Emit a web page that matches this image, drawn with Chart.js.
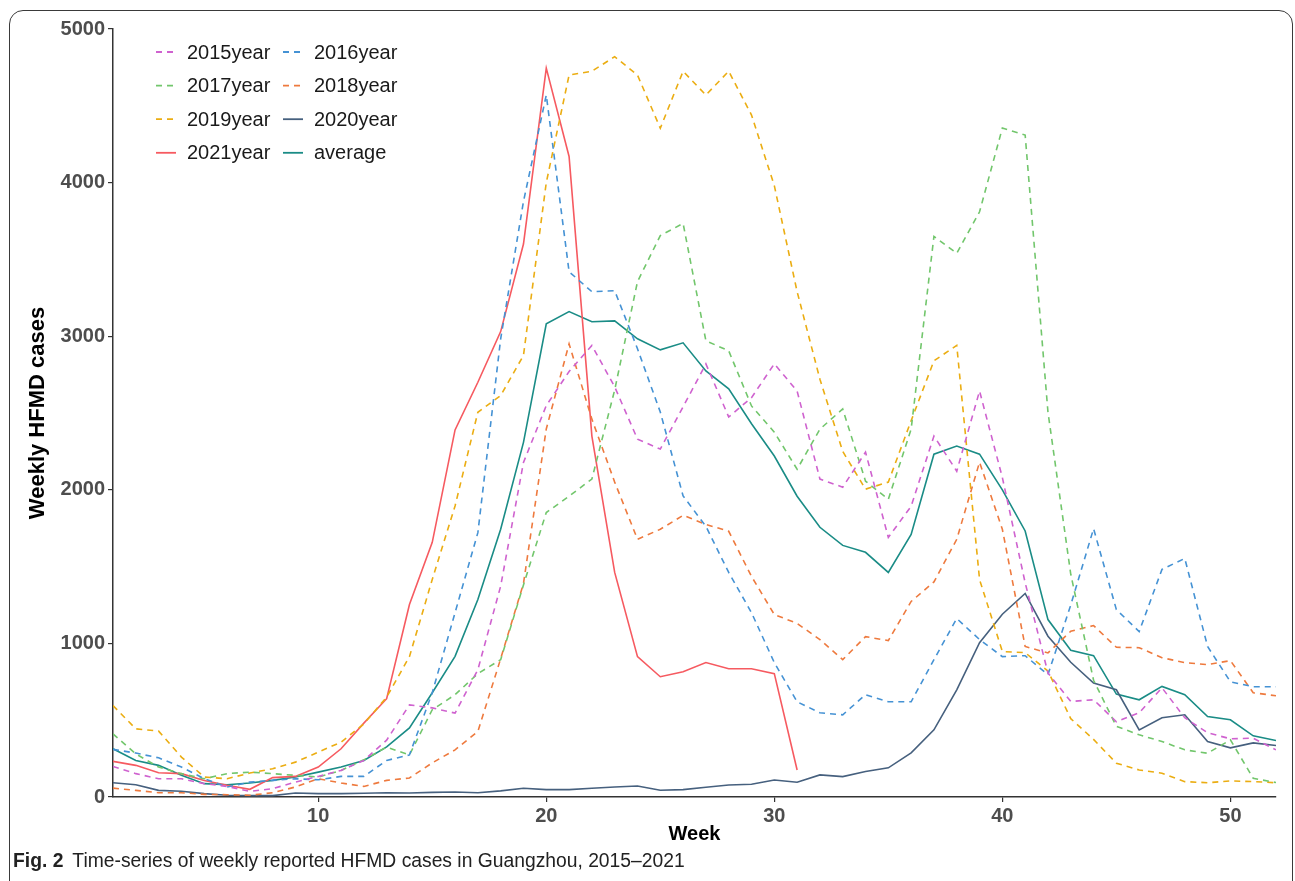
<!DOCTYPE html>
<html>
<head>
<meta charset="utf-8">
<script src="https://cdn.jsdelivr.net/npm/chart.js@4.4.0/dist/chart.umd.min.js"></script>
<style>
  html, body { margin: 0; padding: 0; background: #fff; }
  #wrap { position: relative; width: 1295px; height: 881px; overflow: hidden; }
  #frame { position: absolute; left: 9px; top: 10px; width: 1284px; height: 900px;
           border: 1px solid #3a3a3a; border-radius: 14px; box-sizing: border-box; }
  #chart { position: absolute; left: 0; top: 0; }
  #caption { position: absolute; left: 13px; top: 850px; white-space: nowrap;
             font-family: "Liberation Sans", Arial, sans-serif; font-size: 19.3px; color: #222; }
  #caption b { font-weight: bold; margin-right: 9px; }
</style>
</head>
<body>
<div id="wrap">
  <div id="frame"></div>
  <canvas id="chart" width="1295" height="881"></canvas>
  <div id="caption"><b>Fig. 2</b>Time-series of weekly reported HFMD cases in Guangzhou, 2015–2021</div>
</div>
<script>
// weeks on the x axis
const weeks = [1, 2, 3, 4, 5, 6, 7, 8, 9, 10, 11, 12, 13, 14, 15, 16, 17, 18, 19, 20, 21, 22, 23, 24, 25, 26,
               27, 28, 29, 30, 31, 32, 33, 34, 35, 36, 37, 38, 39, 40, 41, 42, 43, 44, 45, 46, 47, 48, 49, 50, 51, 52];
const xTicks = [10, 20, 30, 40, 50];
const yTicks = [0, 1000, 2000, 3000, 4000, 5000];

// weekly cases
const y2015 = [199, 152, 119, 119, 87, 69, 37, 54, 97, 134, 173, 238, 370, 600, 580, 546, 829, 1373, 2178, 2548,
               2770, 2940, 2670, 2330, 2265, 2540, 2820, 2474, 2600, 2820, 2643, 2070, 2017, 2245, 1690, 1893,
               2350, 2121, 2643, 2080, 1395, 807, 622, 633, 490, 548, 711, 516, 418, 379, 383, 307];
const y2016 = [310, 286, 255, 195, 119, 65, 97, 108, 119, 112, 134, 134, 238, 274, 679, 1200, 1721, 2983, 3877, 4570,
               3420, 3290, 3296, 2918, 2506, 1960, 1762, 1462, 1200, 875, 620, 548, 535, 666, 620, 620,
               894, 1162, 1025, 914, 920, 796, 1250, 1747, 1220, 1077, 1482, 1553, 980, 750, 718, 718];
const y2017 = [411, 281, 195, 152, 119, 152, 162, 152, 141, 130, 173, 242, 325, 274, 568, 666, 803, 894, 1380, 1852,
               1958, 2070, 2650, 3355, 3655, 3734, 2970, 2905, 2546, 2375, 2134, 2395, 2526, 2056, 1938, 2395,
               3650, 3540, 3810, 4355, 4310, 2506, 1450, 760, 460, 405, 361, 307, 285, 372, 122, 94];
const y2018 = [58, 43, 28, 28, 17, 15, 11, 28, 65, 119, 91, 69, 108, 124, 222, 307, 426, 900, 1390, 2396,
               2950, 2460, 2050, 1678, 1743, 1834, 1775, 1730, 1436, 1188, 1130, 1025, 894, 1044, 1018, 1273,
               1400, 1678, 2180, 1743, 980, 938, 1079, 1116, 975, 972, 907, 875, 862, 888, 679, 659];
const y2019 = [595, 444, 429, 260, 130, 119, 156, 184, 227, 292, 357, 476, 650, 914, 1416, 1895, 2505, 2613, 2875, 4000,
               4700, 4725, 4820, 4700, 4354, 4725, 4570, 4725, 4440, 3980, 3290, 2720, 2250, 2004, 2050, 2450,
               2840, 2940, 1416, 947, 940, 820, 510, 375, 220, 176, 155, 100, 93, 105, 100, 93];
const y2020 = [93, 80, 43, 37, 22, 11, 9, 9, 26, 22, 22, 24, 28, 26, 30, 33, 28, 40, 57, 48,
               48, 57, 65, 72, 44, 48, 63, 78, 83, 111, 96, 144, 133, 166, 190, 287,
               437, 698, 1005, 1190, 1325, 1047, 877, 742, 698, 437, 516, 535, 361, 320, 352, 335];
const y2021 = [232, 206, 158, 152, 108, 76, 50, 126, 134, 195, 314, 481, 640, 1253, 1658, 2390, 2700, 3030, 3600, 4745,
               4170, 2350, 1462, 914, 783, 816, 875, 835, 835, 803, 176];
const yAverage = [314, 238, 206, 141, 87, 80, 91, 108, 130, 162, 195, 238, 326, 450, 679, 916, 1286, 1743, 2309, 3081,
                  3160, 3094, 3100, 2983, 2911, 2957, 2774, 2657, 2430, 2220, 1958, 1756, 1638, 1593, 1462, 1710,
                  2232, 2285, 2232, 2000, 1732, 1155, 955, 920, 670, 633, 720, 666, 524, 503, 398, 368];

const FONT = '"Liberation Sans", Arial, sans-serif';
const DASH = [6, 5];

function series(label, values, color, dashed) {
    return {
        label: label,
        data: values.map((v, i) => ({ x: weeks[i], y: v })),
        borderColor: color,
        backgroundColor: color,
        borderWidth: 1.6,
        borderDash: dashed ? DASH : [],
        pointRadius: 0,
        tension: 0,
        fill: false
    };
}

// legend drawn in the top left corner of the plot, two columns
const cornerLegend = {
    id: 'cornerLegend',
    afterDraw(chart) {
        const ctx = chart.ctx;
        ctx.save();
        ctx.font = '20px ' + FONT;
        ctx.textBaseline = 'middle';
        chart.data.datasets.forEach((d, i) => {
            const x0 = (i % 2) ? 283 : 156;
            const y = 52 + Math.floor(i / 2) * 33.6;
            ctx.strokeStyle = d.borderColor;
            ctx.lineWidth = 1.8;
            ctx.setLineDash(d.borderDash);
            ctx.beginPath();
            ctx.moveTo(x0, y);
            ctx.lineTo(x0 + 20, y);
            ctx.stroke();
            ctx.setLineDash([]);
            ctx.fillStyle = '#1a1a1a';
            ctx.fillText(d.label, x0 + 31, y + 1);
        });
        ctx.restore();
    }
};

const tickFont = { family: FONT, size: 20, weight: 'bold' };

new Chart(document.getElementById('chart'), {
    type: 'line',
    data: {
        datasets: [
            series('2015year', y2015, '#cf62cf', true),
            series('2016year', y2016, '#4592d4', true),
            series('2017year', y2017, '#72c66c', true),
            series('2018year', y2018, '#ee7a3e', true),
            series('2019year', y2019, '#ebad12', true),
            series('2020year', y2020, '#46607e', false),
            series('2021year', y2021, '#f65a60', false),
            series('average', yAverage, '#1a8c86', false)
        ]
    },
    options: {
        responsive: false,
        animation: false,
        layout: { padding: { left: 19, right: 19, top: 29, bottom: 30 } },
        plugins: {
            legend: { display: false },
            tooltip: { enabled: false }
        },
        scales: {
            x: {
                type: 'linear',
                min: 1,
                max: 52,
                afterBuildTicks: s => { s.ticks = xTicks.map(v => ({ value: v })); },
                afterFit: s => { s.height = 54; },
                grid: { drawOnChartArea: false, drawTicks: true, tickLength: 5, color: '#333', lineWidth: 1.2 },
                border: { display: true, color: '#333', width: 1.5 },
                ticks: { font: tickFont, color: '#4d4d4d', padding: 2, maxRotation: 0, callback: v => String(v) },
                title: { display: true, text: 'Week', font: { family: FONT, size: 20, weight: 'bold' },
                         color: '#000', padding: { top: 0, bottom: 5 } }
            },
            y: {
                min: 0,
                max: 5000,
                afterBuildTicks: s => { s.ticks = yTicks.map(v => ({ value: v })); },
                afterFit: s => { s.width = 94; },
                grid: { drawOnChartArea: false, drawTicks: true, tickLength: 5, color: '#333', lineWidth: 1.2 },
                border: { display: true, color: '#333', width: 1.5 },
                ticks: { font: tickFont, color: '#4d4d4d', padding: 3, callback: v => String(v) },
                title: { display: true, text: 'Weekly HFMD cases', font: { family: FONT, size: 22, weight: 'bold' },
                         color: '#000', padding: { top: 6, bottom: 0 } }
            }
        }
    },
    plugins: [cornerLegend]
});
</script>
</body>
</html>
